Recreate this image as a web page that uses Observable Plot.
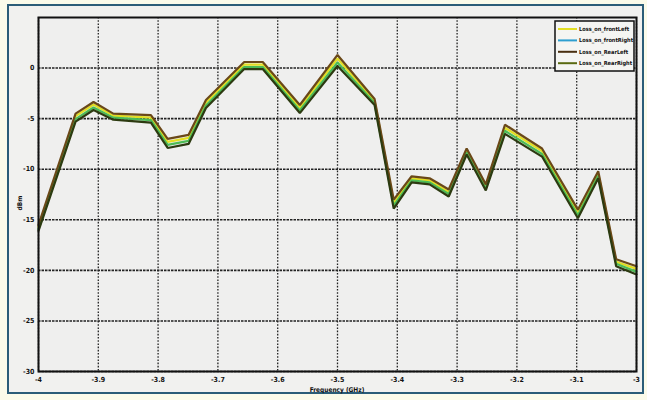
<!DOCTYPE html>
<html>
<head>
<meta charset="utf-8">
<script src="https://cdn.jsdelivr.net/npm/d3@7"></script>
<script src="https://cdn.jsdelivr.net/npm/@observablehq/plot@0.6"></script>
<style>
  html, body { margin: 0; padding: 0; background: #fbfbea; }
  svg { display: block; }
</style>
</head>
<body>
<div id="chart"></div>
<script>
// Frequency (GHz) sample positions
const freq = [-4.0, -3.938, -3.908, -3.875, -3.812, -3.784, -3.749, -3.72, -3.656, -3.625, -3.563, -3.5, -3.438, -3.406, -3.376, -3.346, -3.314, -3.284, -3.252, -3.22, -3.158, -3.098, -3.064, -3.034, -3.0];

// Series values (dBm)
const rearLeft   = [-15.5, -4.5, -3.35, -4.5, -4.65, -7.0, -6.6, -3.15, 0.6, 0.6, -3.65, 1.3, -3.05, -13.0, -10.7, -10.9, -12.0, -7.95, -11.5, -5.6, -7.95, -14.0, -10.2, -18.9, -19.6];
const frontLeft  = [-15.7, -4.75, -3.6, -4.7, -4.9, -7.3, -6.9, -3.4, 0.35, 0.35, -3.9, 0.95, -3.25, -13.3, -10.9, -11.1, -12.25, -8.15, -11.7, -5.9, -8.2, -14.3, -10.45, -19.15, -19.85];
const frontRight = [-15.9, -5.05, -3.9, -4.9, -5.15, -7.6, -7.2, -3.7, 0.1, 0.1, -4.2, 0.55, -3.45, -13.6, -11.1, -11.3, -12.45, -8.35, -11.9, -6.2, -8.5, -14.55, -10.65, -19.35, -20.15];
const rearRight  = [-16.1, -5.3, -4.15, -5.1, -5.4, -7.9, -7.5, -3.95, -0.1, -0.1, -4.45, 0.2, -3.65, -13.9, -11.3, -11.5, -12.7, -8.55, -12.1, -6.5, -8.75, -14.85, -10.9, -19.6, -20.4];

const seriesNames = ["Loss_on_frontLeft", "Loss_on_frontRight", "Loss_on_RearLeft", "Loss_on_RearRight"];
const seriesValues = [frontLeft, frontRight, rearLeft, rearRight];
const seriesColors = ["#e2de22", "#4cbb55", "#6a4818", "#2c3a10"];

const xTicks = [-4, -3.9, -3.8, -3.7, -3.6, -3.5, -3.4, -3.3, -3.2, -3.1, -3];
const yTicks = [0, -5, -10, -15, -20, -25, -30];

const rows = [];
seriesNames.forEach((name, i) => {
  freq.forEach((f, j) => rows.push({series: name, f, v: seriesValues[i][j]}));
});

const font = "DejaVu Sans Condensed, DejaVu Sans, sans-serif";

const chart = Plot.plot({
  width: 647,
  height: 400,
  marginLeft: 38,
  marginRight: 11,
  marginTop: 17,
  marginBottom: 29,
  style: {background: "transparent", fontFamily: font, color: "#111"},
  x: {domain: [-4, -3], label: null},
  y: {domain: [-30, 5], label: null},
  color: {domain: seriesNames, range: seriesColors},
  marks: [
    Plot.frame({fill: "#efefee"}),
    Plot.gridX(xTicks, {stroke: "#222", strokeOpacity: 1, strokeWidth: 1.3, strokeDasharray: "1.6,1.6"}),
    Plot.gridY(yTicks, {stroke: "#222", strokeOpacity: 1, strokeWidth: 1.6, strokeDasharray: "2.5,1"}),
    Plot.line(rows, {x: "f", y: "v", z: "series", stroke: "series", strokeWidth: 2.2, strokeLinejoin: "miter"}),
    Plot.frame({stroke: "#111", strokeWidth: 2}),
    Plot.axisX(xTicks, {tickSize: 0, tickPadding: 6, fontSize: 7, fontWeight: "bold", tickFormat: d => String(d)}),
    Plot.axisY(yTicks, {tickSize: 0, tickPadding: 4, fontSize: 7, fontWeight: "bold", tickFormat: d => String(d)})
  ]
});

const svg = d3.select(chart);
// outer panel
svg.insert("rect", ":first-child")
  .attr("x", 8).attr("y", 5).attr("width", 635).attr("height", 388)
  .attr("fill", "#f1f1ef").attr("stroke", "#2b5d78").attr("stroke-width", 2);

// axis titles
svg.append("text").attr("x", 337).attr("y", 392).attr("text-anchor", "middle")
  .attr("font-size", 6.5).attr("font-weight", "bold").attr("font-family", font).attr("fill", "#111")
  .text("Frequency (GHz)");
svg.append("text").attr("transform", "translate(22,203) rotate(-90)").attr("text-anchor", "middle")
  .attr("font-size", 6.5).attr("font-weight", "bold").attr("font-family", font).attr("fill", "#111")
  .text("dBm");

// legend
const lg = svg.append("g");
lg.append("rect").attr("x", 555).attr("y", 21).attr("width", 79).attr("height", 50)
  .attr("fill", "#f5f5f2").attr("stroke", "#111").attr("stroke-width", 1.5);
const legendSwatch = ["#e2de22", "#2e9fd0", "#4a3010", "#5a6a10"];
seriesNames.forEach((name, i) => {
  const y = 29 + i * 11.4;
  lg.append("line").attr("x1", 558).attr("x2", 577).attr("y1", y).attr("y2", y)
    .attr("stroke", legendSwatch[i]).attr("stroke-width", 2);
  lg.append("text").attr("x", 579).attr("y", y).attr("dy", "0.35em")
    .attr("text-anchor", "start")
    .attr("font-size", 5.6).attr("font-weight", "bold").attr("font-family", font).attr("fill", "#111")
    .text(name);
});

document.getElementById("chart").appendChild(chart);
</script>
</body>
</html>
